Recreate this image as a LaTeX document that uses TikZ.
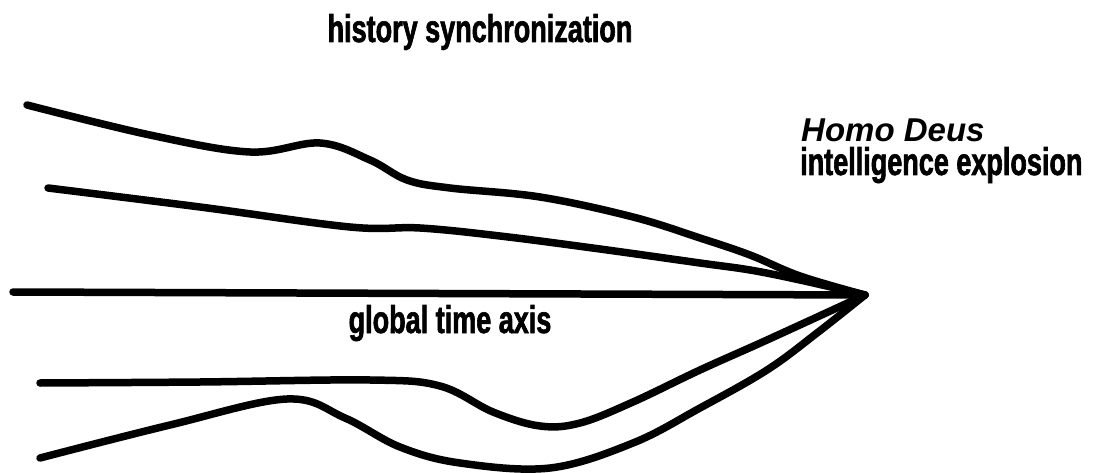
\documentclass[tikz,border=0pt]{standalone}
\usepackage{fontspec}
\setmainfont{Liberation Sans}
\newfontfamily\condfont{Liberation Sans Bold}[FakeStretch=0.70,FakeBold=1.6]
\begin{document}
\begin{tikzpicture}[x=1pt,y=-1pt,
  stream/.style={line width=7.5pt,line cap=round,line join=round},
  lbl/.style={font=\condfont\fontsize{38.6}{44}\selectfont,inner sep=0pt,anchor=base}]
\useasboundingbox (0,0) rectangle (1100,473);
\coordinate (P) at (865,295);
% top curve
\draw[stream] plot[smooth,tension=0.6] coordinates {(27,105) (150,135) (250,152) (320,143) (370,160) (407,180) (450,188) (540,197) (633,217) (700,238) (750,255) (800,276) (P)};
% second curve
\draw[stream] plot[smooth,tension=0.6] coordinates {(48,188) (200,207) (350,227) (420,228) (500,236) (600,249) (700,263) (750,270) (800,280) (P)};
% global time axis
\draw[stream] (13,292) -- (P);
% fourth curve
\draw[stream] plot[smooth,tension=0.6] coordinates {(40,383) (200,382) (370,380) (440,386) (493,412) (540,426) (580,423) (633,402) (700,370) (767,340) (P)};
% bottom curve
\draw[stream] plot[smooth,tension=0.6] coordinates {(40,458) (170,425) (287,399) (345,418) (400,447) (460,463) (550,468) (633,443) (700,408) (767,370) (817,333) (P)};
% labels
\node[lbl] (hist) at (480,42) {history synchronization};
\node[lbl] (axis) at (450,333) {global time axis};
\node[font=\bfseries\itshape\fontsize{33}{40}\selectfont,inner sep=0pt,anchor=base west] (homo) at (801,142) {Homo Deus};
\node[lbl,anchor=base west] (intel) at (800,175) {intelligence explosion};
\end{tikzpicture}
\end{document}
